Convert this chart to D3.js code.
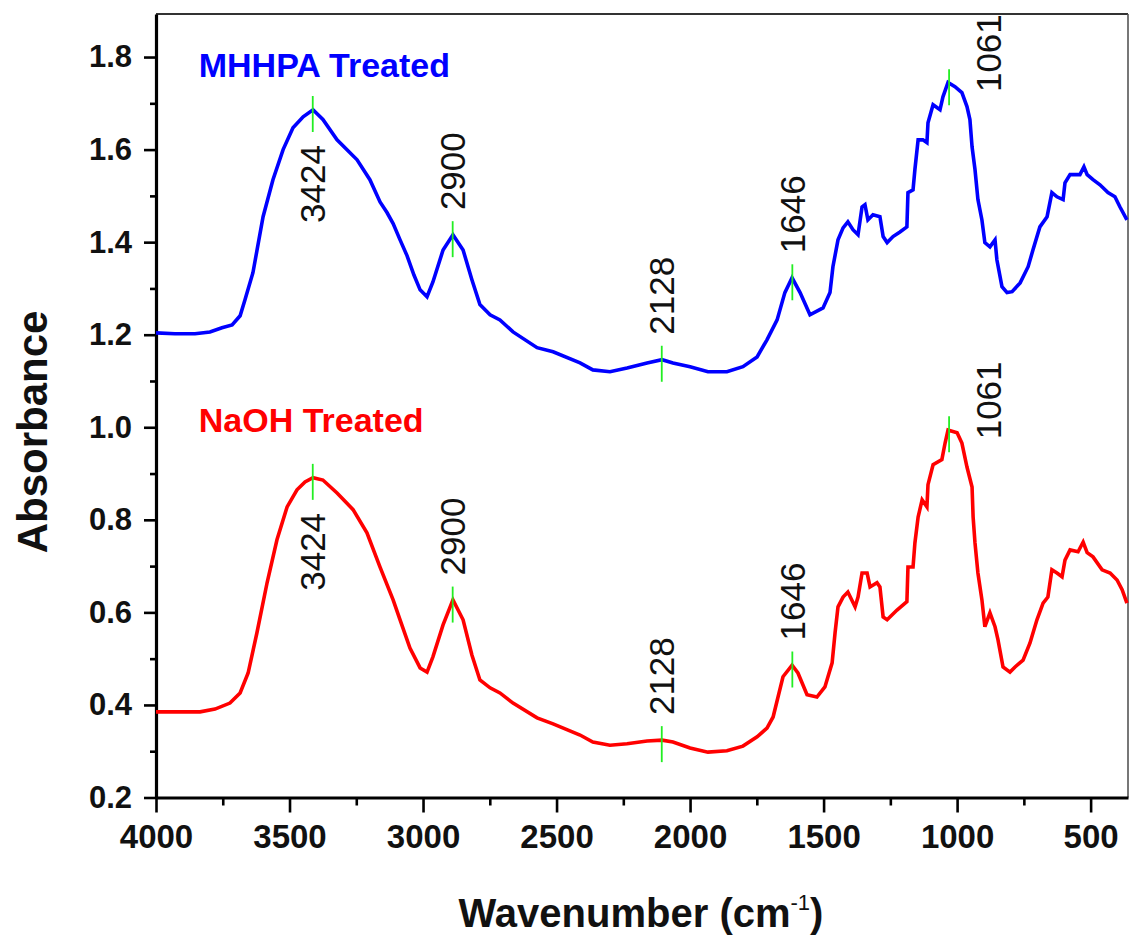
<!DOCTYPE html>
<html>
<head>
<meta charset="utf-8">
<script src="https://cdn.jsdelivr.net/npm/d3@7/dist/d3.min.js"></script>
<style>
  body { margin: 0; background: #fff; }
  text { font-family: Arial, "Liberation Sans", sans-serif; }
</style>
</head>
<body>
<svg id="chart" width="1133" height="937"></svg>
<script>
// ---- data ----
var mhhpaWn  = [4000,3929,3854,3798,3753,3715,3685,3667,3637,3599,3562,3524,3487,3449,3412,3375,3322,3247,3199,3161,3135,3112,3086,3060,3034,3011,2985,2963,2925,2888,2850,2817,2787,2749,2712,2663,2573,2513,2412,2364,2300,2236,2161,2105,2064,2000,1933,1862,1802,1749,1712,1674,1645,1618,1588,1551,1502,1476,1465,1446,1427,1409,1390,1371,1356,1345,1334,1315,1289,1277,1262,1240,1214,1188,1184,1165,1158,1146,1128,1113,1109,1090,1064,1053,1034,1008,982,963,952,944,933,922,907,896,877,858,851,832,813,794,764,734,716,690,663,645,626,603,596,577,540,525,513,491,465,435,409,390,364];
var mhhpaAbs = [1.204,1.202,1.202,1.206,1.215,1.221,1.241,1.275,1.334,1.455,1.535,1.600,1.647,1.671,1.686,1.665,1.621,1.578,1.535,1.487,1.464,1.440,1.405,1.371,1.329,1.297,1.282,1.314,1.383,1.416,1.383,1.319,1.265,1.243,1.232,1.206,1.172,1.163,1.139,1.124,1.120,1.128,1.139,1.146,1.139,1.131,1.120,1.120,1.131,1.152,1.189,1.232,1.291,1.323,1.291,1.243,1.258,1.291,1.347,1.405,1.431,1.444,1.427,1.416,1.476,1.481,1.448,1.459,1.455,1.412,1.399,1.412,1.422,1.433,1.507,1.513,1.557,1.621,1.621,1.615,1.658,1.697,1.686,1.714,1.745,1.736,1.723,1.693,1.665,1.606,1.557,1.492,1.448,1.399,1.390,1.405,1.362,1.304,1.291,1.293,1.312,1.347,1.383,1.433,1.455,1.507,1.498,1.492,1.528,1.546,1.546,1.563,1.546,1.535,1.524,1.507,1.498,1.476,1.448];

var naohWn  = [4000,3910,3835,3779,3723,3685,3655,3622,3584,3547,3509,3472,3442,3412,3375,3322,3262,3210,3161,3112,3086,3049,3011,2985,2963,2925,2888,2850,2817,2787,2749,2712,2663,2573,2513,2412,2364,2300,2236,2161,2105,2064,2000,1933,1862,1802,1749,1712,1689,1652,1618,1596,1562,1525,1495,1468,1457,1446,1427,1409,1382,1371,1356,1337,1326,1300,1289,1277,1262,1225,1188,1184,1165,1158,1146,1131,1113,1109,1090,1057,1045,1034,1000,982,963,944,940,933,922,907,896,877,858,847,828,802,783,753,727,701,678,660,645,626,607,596,577,547,528,513,491,457,427,401,382,364];
var naohAbs = [0.385,0.385,0.385,0.391,0.404,0.426,0.469,0.556,0.664,0.757,0.828,0.865,0.882,0.891,0.886,0.858,0.822,0.772,0.698,0.627,0.584,0.523,0.480,0.471,0.504,0.573,0.627,0.584,0.508,0.454,0.437,0.426,0.404,0.372,0.359,0.335,0.320,0.313,0.316,0.322,0.324,0.320,0.307,0.298,0.301,0.311,0.331,0.350,0.374,0.461,0.486,0.469,0.422,0.417,0.439,0.491,0.556,0.612,0.633,0.644,0.612,0.633,0.685,0.685,0.655,0.664,0.655,0.590,0.584,0.605,0.623,0.698,0.698,0.750,0.806,0.843,0.828,0.876,0.919,0.930,0.966,0.994,0.988,0.966,0.914,0.871,0.806,0.750,0.685,0.627,0.569,0.599,0.569,0.541,0.482,0.471,0.482,0.497,0.534,0.584,0.620,0.633,0.692,0.685,0.677,0.713,0.735,0.731,0.752,0.729,0.720,0.692,0.685,0.670,0.649,0.620];

// peak annotations (text as printed, marker position as drawn)
var peakLabels = ["3424", "2900", "2128", "1646", "1061"];
var peakWn     = [3413, 2889, 2106, 1617, 1030];
var peakSide   = ["below", "above", "above", "above", "right"];

var seriesNames = ["MHHPA Treated", "NaOH Treated"];
var xTicks = [4000, 3500, 3000, 2500, 2000, 1500, 1000, 500];
var xMinor = [3750, 3250, 2750, 2250, 1750, 1250, 750];
var yTicks = [0.2, 0.4, 0.6, 0.8, 1.0, 1.2, 1.4, 1.6, 1.8];
var yMinor = [0.3, 0.5, 0.7, 0.9, 1.1, 1.3, 1.5, 1.7];

// ---- layout ----
var plotL = 156, plotR = 1128, plotT = 14, plotB = 797.5;
var svg = d3.select("#chart");

var x = d3.scaleLinear().domain([4000, 360]).range([plotL, plotR]);
var y = d3.scaleLinear().domain([0.2, 1.893]).range([plotB, plotT]);

// frame (top / right)
svg.append("line").attr("x1", plotL).attr("x2", plotR).attr("y1", plotT).attr("y2", plotT)
   .attr("stroke", "#333").attr("stroke-width", 2);
svg.append("line").attr("x1", plotR).attr("x2", plotR).attr("y1", plotT).attr("y2", plotB)
   .attr("stroke", "#555").attr("stroke-width", 1.6);

// x axis
var gx = svg.append("g").attr("transform", "translate(0," + plotB + ")")
   .call(d3.axisBottom(x).tickValues(xTicks).tickSize(15).tickSizeOuter(0).tickPadding(10)
   .tickFormat(d3.format("d")));
svg.append("g").attr("transform", "translate(0," + plotB + ")")
   .call(d3.axisBottom(x).tickValues(xMinor).tickSize(8).tickSizeOuter(0).tickFormat(""))
   .select(".domain").remove();

// y axis
var gy = svg.append("g").attr("transform", "translate(" + plotL + ",0)")
   .call(d3.axisLeft(y).tickValues(yTicks).tickSize(12).tickSizeOuter(0).tickPadding(12)
   .tickFormat(d3.format(".1f")));
svg.append("g").attr("transform", "translate(" + plotL + ",0)")
   .call(d3.axisLeft(y).tickValues(yMinor).tickSize(6).tickSizeOuter(0).tickFormat(""))
   .select(".domain").remove();

svg.selectAll(".domain").attr("stroke", "#000").attr("stroke-width", 3.2);
svg.selectAll(".tick line").attr("stroke", "#000").attr("stroke-width", 2.6);
gx.selectAll(".tick text").attr("font-size", "33px").attr("font-weight", "bold")
  .attr("fill", "#111").attr("dy", "0.78em");
gy.selectAll(".tick text").attr("font-size", "31px").attr("font-weight", "bold")
  .attr("fill", "#111");

// axis titles
var xt = svg.append("text").attr("x", 641).attr("y", 927).attr("text-anchor", "middle")
   .attr("font-size", "40px").attr("font-weight", "bold").attr("fill", "#111");
xt.append("tspan").text("Wavenumber (cm");
xt.append("tspan").text("-1").attr("font-size", "22px").attr("font-weight", "normal").attr("dy", -17);
xt.append("tspan").text(")").attr("dy", 17);

svg.append("text").attr("transform", "translate(47,432) rotate(-90)")
   .attr("text-anchor", "middle").attr("font-size", "42px").attr("font-weight", "bold")
   .attr("fill", "#111").text("Absorbance");

// spectra
var line = d3.line().x(function(d){ return x(d[0]); }).y(function(d){ return y(d[1]); });
var series = [
  {name: seriesNames[0], wn: mhhpaWn, abs: mhhpaAbs, color: "#0000ff"},
  {name: seriesNames[1], wn: naohWn,  abs: naohAbs,  color: "#ff0000"}
];

function valueAt(wn, abs, w) {
  for (var i = 0; i < wn.length - 1; i++) {
    if (w <= wn[i] && w >= wn[i+1]) {
      var t = (wn[i] - w) / (wn[i] - wn[i+1]);
      return abs[i] + t * (abs[i+1] - abs[i]);
    }
  }
  return abs[abs.length - 1];
}

series.forEach(function(s, k) {
  svg.append("path").datum(d3.zip(s.wn, s.abs))
     .attr("d", line).attr("fill", "none").attr("stroke", s.color)
     .attr("stroke-width", 3.6).attr("stroke-linejoin", "miter");

  // series label
  svg.append("text")
     .attr("x", x(3840)).attr("y", k == 0 ? y(1.757) : y(0.99))
     .attr("font-size", "34px").attr("font-weight", "bold").attr("fill", s.color)
     .text(s.name);

  // peak markers + labels
  peakWn.forEach(function(w, i) {
    var px = x(w), py = y(valueAt(s.wn, s.abs, w));
    svg.append("line").attr("x1", px).attr("x2", px)
       .attr("y1", py - 14).attr("y2", py + 22)
       .attr("stroke", "#22ee22").attr("stroke-width", 1.8);

    var lx = px, ly;
    if (peakSide[i] == "below") ly = py + 74;
    else if (peakSide[i] == "above") ly = py - 64;
    else { lx = px + 39; ly = py - 30; }
    svg.append("text").attr("transform", "translate(" + lx + "," + ly + ") rotate(-90)")
       .attr("text-anchor", "middle").attr("dominant-baseline", "central")
       .attr("font-size", "35px").attr("fill", "#111").text(peakLabels[i]);
  });
});
</script>
</body>
</html>
